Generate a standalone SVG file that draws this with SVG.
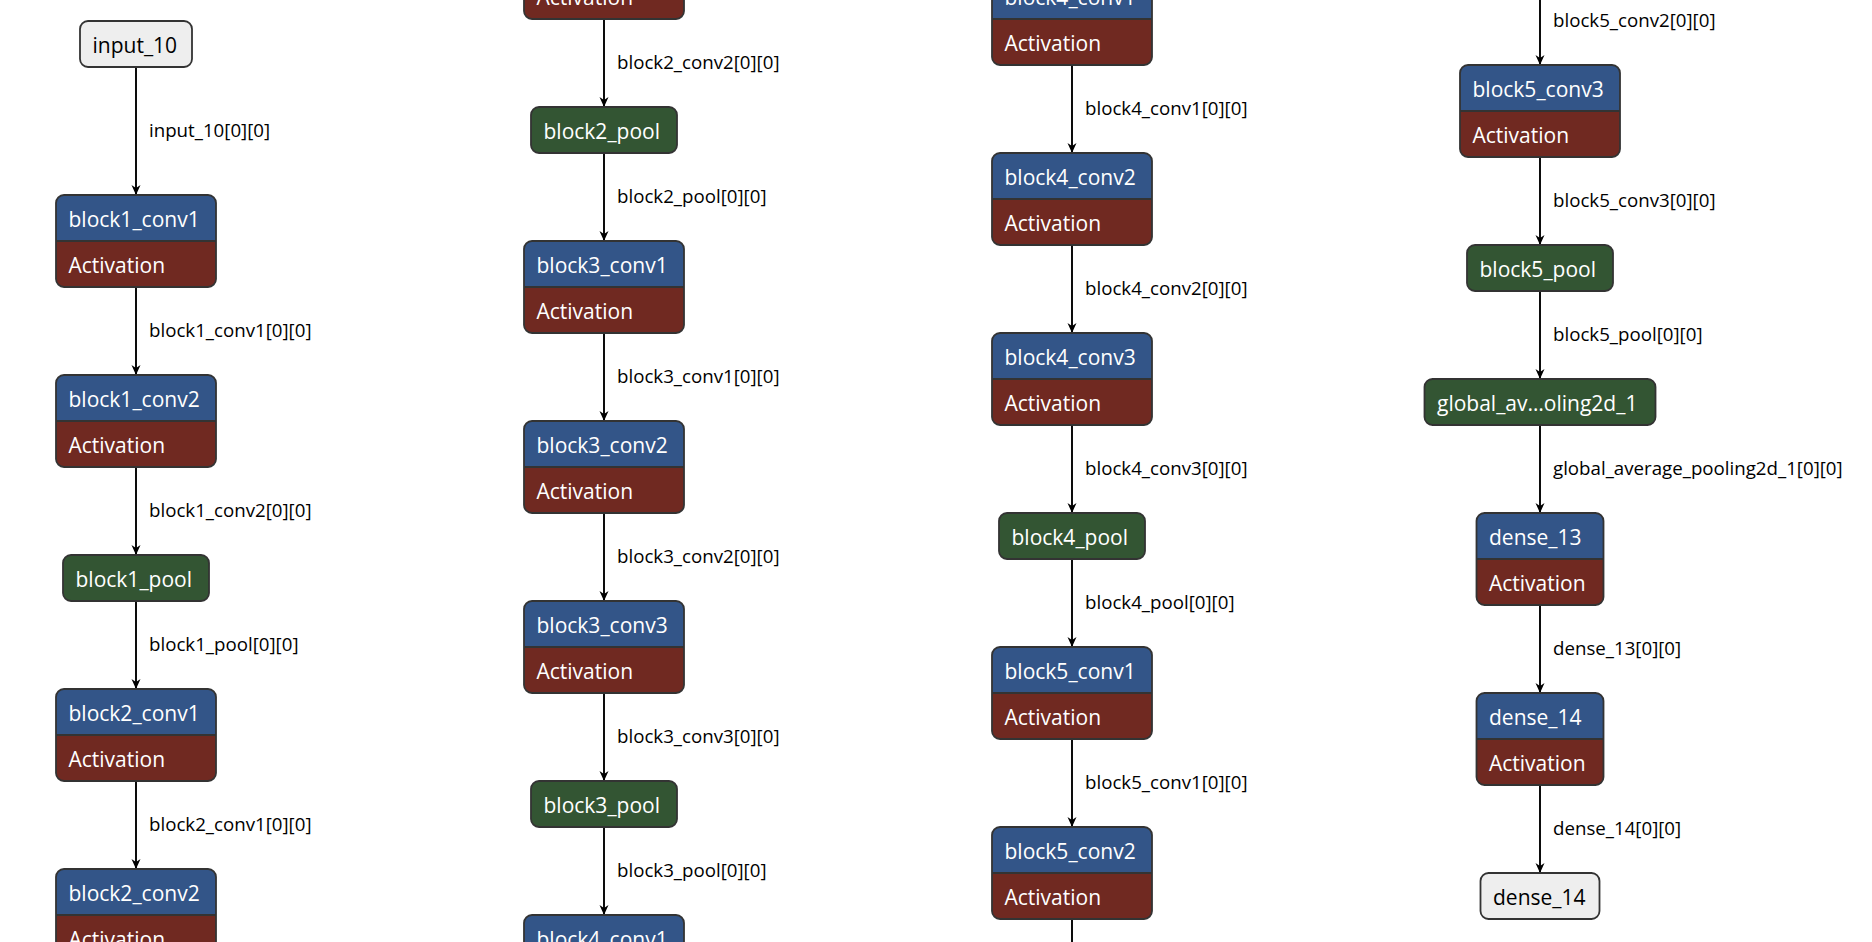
<svg xmlns="http://www.w3.org/2000/svg" width="1872" height="942" viewBox="0 0 1872 942">
<style>
.edge{stroke:#000;stroke-width:1.9;fill:none}
.lbl{font-family:"Open Sans","Noto Sans",sans-serif;font-size:18.7px;fill:#000}
.nt{font-family:"Open Sans","Noto Sans",sans-serif;font-size:21px;fill:#fff}
.nt.dark{fill:#000}
.blue{fill:#335588}
.red{fill:#702921}
.green{fill:#335533;stroke:#333;stroke-width:1.8}
.io{fill:#eeeeee;stroke:#333;stroke-width:1.8}
.outline{fill:none;stroke:#333;stroke-width:1.8}
.div{stroke:#333;stroke-width:1.8}
</style>
<defs>
<marker id="arrow" viewBox="0 0 10 10" refX="10" refY="5" markerWidth="10" markerHeight="10" markerUnits="userSpaceOnUse" orient="auto">
<path d="M0,0.5 L10,5 L0,9.5 L3,5 Z" fill="#000"/>
</marker>
</defs>
<rect width="1872" height="942" fill="#fff"/>

<g id="connectors">
<!-- column 1 -->
<line class="edge" x1="136" y1="67" x2="136" y2="195" marker-end="url(#arrow)"/>
<text class="lbl" x="149" y="137">input_10[0][0]</text>
<line class="edge" x1="136" y1="287" x2="136" y2="375" marker-end="url(#arrow)"/>
<text class="lbl" x="149" y="337">block1_conv1[0][0]</text>
<line class="edge" x1="136" y1="467" x2="136" y2="555" marker-end="url(#arrow)"/>
<text class="lbl" x="149" y="517">block1_conv2[0][0]</text>
<line class="edge" x1="136" y1="601" x2="136" y2="689" marker-end="url(#arrow)"/>
<text class="lbl" x="149" y="651">block1_pool[0][0]</text>
<line class="edge" x1="136" y1="781" x2="136" y2="869" marker-end="url(#arrow)"/>
<text class="lbl" x="149" y="831">block2_conv1[0][0]</text>
<!-- column 2 -->
<line class="edge" x1="604" y1="19" x2="604" y2="107" marker-end="url(#arrow)"/>
<text class="lbl" x="617" y="69">block2_conv2[0][0]</text>
<line class="edge" x1="604" y1="153" x2="604" y2="241" marker-end="url(#arrow)"/>
<text class="lbl" x="617" y="203">block2_pool[0][0]</text>
<line class="edge" x1="604" y1="333" x2="604" y2="421" marker-end="url(#arrow)"/>
<text class="lbl" x="617" y="383">block3_conv1[0][0]</text>
<line class="edge" x1="604" y1="513" x2="604" y2="601" marker-end="url(#arrow)"/>
<text class="lbl" x="617" y="563">block3_conv2[0][0]</text>
<line class="edge" x1="604" y1="693" x2="604" y2="781" marker-end="url(#arrow)"/>
<text class="lbl" x="617" y="743">block3_conv3[0][0]</text>
<line class="edge" x1="604" y1="827" x2="604" y2="915" marker-end="url(#arrow)"/>
<text class="lbl" x="617" y="877">block3_pool[0][0]</text>
<!-- column 3 -->
<line class="edge" x1="1072" y1="65" x2="1072" y2="153" marker-end="url(#arrow)"/>
<text class="lbl" x="1085" y="115">block4_conv1[0][0]</text>
<line class="edge" x1="1072" y1="245" x2="1072" y2="333" marker-end="url(#arrow)"/>
<text class="lbl" x="1085" y="295">block4_conv2[0][0]</text>
<line class="edge" x1="1072" y1="425" x2="1072" y2="513" marker-end="url(#arrow)"/>
<text class="lbl" x="1085" y="475">block4_conv3[0][0]</text>
<line class="edge" x1="1072" y1="559" x2="1072" y2="647" marker-end="url(#arrow)"/>
<text class="lbl" x="1085" y="609">block4_pool[0][0]</text>
<line class="edge" x1="1072" y1="739" x2="1072" y2="827" marker-end="url(#arrow)"/>
<text class="lbl" x="1085" y="789">block5_conv1[0][0]</text>
<line class="edge" x1="1072" y1="919" x2="1072" y2="942"/>
<!-- column 4 -->
<line class="edge" x1="1540" y1="0" x2="1540" y2="65" marker-end="url(#arrow)"/>
<text class="lbl" x="1553" y="27">block5_conv2[0][0]</text>
<line class="edge" x1="1540" y1="157" x2="1540" y2="245" marker-end="url(#arrow)"/>
<text class="lbl" x="1553" y="207">block5_conv3[0][0]</text>
<line class="edge" x1="1540" y1="291" x2="1540" y2="379" marker-end="url(#arrow)"/>
<text class="lbl" x="1553" y="341">block5_pool[0][0]</text>
<line class="edge" x1="1540" y1="425" x2="1540" y2="513" marker-end="url(#arrow)"/>
<text class="lbl" x="1553" y="475">global_average_pooling2d_1[0][0]</text>
<line class="edge" x1="1540" y1="605" x2="1540" y2="693" marker-end="url(#arrow)"/>
<text class="lbl" x="1553" y="655">dense_13[0][0]</text>
<line class="edge" x1="1540" y1="785" x2="1540" y2="873" marker-end="url(#arrow)"/>
<text class="lbl" x="1553" y="835">dense_14[0][0]</text>
</g>

<!-- column 1 nodes -->
<g id="input_10">
<rect class="io" x="80" y="21" width="112" height="46" rx="8"/>
<text class="nt dark" x="92.5" y="53">input_10</text>
</g>
<g id="block1_conv1">
<path class="blue" d="M56,241 V203 A8,8 0 0 1 64,195 H208 A8,8 0 0 1 216,203 V241 Z"/>
<path class="red" d="M56,241 H216 V279 A8,8 0 0 1 208,287 H64 A8,8 0 0 1 56,279 Z"/>
<line class="div" x1="56" y1="241" x2="216" y2="241"/>
<rect class="outline" x="56" y="195" width="160" height="92" rx="8"/>
<text class="nt" x="68.5" y="227">block1_conv1</text>
<text class="nt" x="68.5" y="273">Activation</text>
</g>
<g id="block1_conv2">
<path class="blue" d="M56,421 V383 A8,8 0 0 1 64,375 H208 A8,8 0 0 1 216,383 V421 Z"/>
<path class="red" d="M56,421 H216 V459 A8,8 0 0 1 208,467 H64 A8,8 0 0 1 56,459 Z"/>
<line class="div" x1="56" y1="421" x2="216" y2="421"/>
<rect class="outline" x="56" y="375" width="160" height="92" rx="8"/>
<text class="nt" x="68.5" y="407">block1_conv2</text>
<text class="nt" x="68.5" y="453">Activation</text>
</g>
<g id="block1_pool">
<rect class="green" x="63" y="555" width="146" height="46" rx="8"/>
<text class="nt" x="75.5" y="587">block1_pool</text>
</g>
<g id="block2_conv1">
<path class="blue" d="M56,735 V697 A8,8 0 0 1 64,689 H208 A8,8 0 0 1 216,697 V735 Z"/>
<path class="red" d="M56,735 H216 V773 A8,8 0 0 1 208,781 H64 A8,8 0 0 1 56,773 Z"/>
<line class="div" x1="56" y1="735" x2="216" y2="735"/>
<rect class="outline" x="56" y="689" width="160" height="92" rx="8"/>
<text class="nt" x="68.5" y="721">block2_conv1</text>
<text class="nt" x="68.5" y="767">Activation</text>
</g>
<g id="block2_conv2_part1">
<path class="blue" d="M56,915 V877 A8,8 0 0 1 64,869 H208 A8,8 0 0 1 216,877 V915 Z"/>
<path class="red" d="M56,915 H216 V953 A8,8 0 0 1 208,961 H64 A8,8 0 0 1 56,953 Z"/>
<line class="div" x1="56" y1="915" x2="216" y2="915"/>
<rect class="outline" x="56" y="869" width="160" height="92" rx="8"/>
<text class="nt" x="68.5" y="901">block2_conv2</text>
<text class="nt" x="68.5" y="947">Activation</text>
</g>

<!-- column 2 nodes -->
<g id="block2_conv2_part2">
<path class="blue" d="M524,-27 V-65 A8,8 0 0 1 532,-73 H676 A8,8 0 0 1 684,-65 V-27 Z"/>
<path class="red" d="M524,-27 H684 V11 A8,8 0 0 1 676,19 H532 A8,8 0 0 1 524,11 Z"/>
<rect class="outline" x="524" y="-73" width="160" height="92" rx="8"/>
<text class="nt" x="536.5" y="5">Activation</text>
</g>
<g id="block2_pool">
<rect class="green" x="531" y="107" width="146" height="46" rx="8"/>
<text class="nt" x="543.5" y="139">block2_pool</text>
</g>
<g id="block3_conv1">
<path class="blue" d="M524,287 V249 A8,8 0 0 1 532,241 H676 A8,8 0 0 1 684,249 V287 Z"/>
<path class="red" d="M524,287 H684 V325 A8,8 0 0 1 676,333 H532 A8,8 0 0 1 524,325 Z"/>
<line class="div" x1="524" y1="287" x2="684" y2="287"/>
<rect class="outline" x="524" y="241" width="160" height="92" rx="8"/>
<text class="nt" x="536.5" y="273">block3_conv1</text>
<text class="nt" x="536.5" y="319">Activation</text>
</g>
<g id="block3_conv2">
<path class="blue" d="M524,467 V429 A8,8 0 0 1 532,421 H676 A8,8 0 0 1 684,429 V467 Z"/>
<path class="red" d="M524,467 H684 V505 A8,8 0 0 1 676,513 H532 A8,8 0 0 1 524,505 Z"/>
<line class="div" x1="524" y1="467" x2="684" y2="467"/>
<rect class="outline" x="524" y="421" width="160" height="92" rx="8"/>
<text class="nt" x="536.5" y="453">block3_conv2</text>
<text class="nt" x="536.5" y="499">Activation</text>
</g>
<g id="block3_conv3">
<path class="blue" d="M524,647 V609 A8,8 0 0 1 532,601 H676 A8,8 0 0 1 684,609 V647 Z"/>
<path class="red" d="M524,647 H684 V685 A8,8 0 0 1 676,693 H532 A8,8 0 0 1 524,685 Z"/>
<line class="div" x1="524" y1="647" x2="684" y2="647"/>
<rect class="outline" x="524" y="601" width="160" height="92" rx="8"/>
<text class="nt" x="536.5" y="633">block3_conv3</text>
<text class="nt" x="536.5" y="679">Activation</text>
</g>
<g id="block3_pool">
<rect class="green" x="531" y="781" width="146" height="46" rx="8"/>
<text class="nt" x="543.5" y="813">block3_pool</text>
</g>
<g id="block4_conv1_part1">
<path class="blue" d="M524,961 V923 A8,8 0 0 1 532,915 H676 A8,8 0 0 1 684,923 V961 Z"/>
<rect class="outline" x="524" y="915" width="160" height="92" rx="8"/>
<text class="nt" x="536.5" y="947">block4_conv1</text>
</g>

<!-- column 3 nodes -->
<g id="block4_conv1_part2">
<path class="blue" d="M992,19 V-19 A8,8 0 0 1 1000,-27 H1144 A8,8 0 0 1 1152,-19 V19 Z"/>
<path class="red" d="M992,19 H1152 V57 A8,8 0 0 1 1144,65 H1000 A8,8 0 0 1 992,57 Z"/>
<line class="div" x1="992" y1="19" x2="1152" y2="19"/>
<rect class="outline" x="992" y="-27" width="160" height="92" rx="8"/>
<text class="nt" x="1004.5" y="5">block4_conv1</text>
<text class="nt" x="1004.5" y="51">Activation</text>
</g>
<g id="block4_conv2">
<path class="blue" d="M992,199 V161 A8,8 0 0 1 1000,153 H1144 A8,8 0 0 1 1152,161 V199 Z"/>
<path class="red" d="M992,199 H1152 V237 A8,8 0 0 1 1144,245 H1000 A8,8 0 0 1 992,237 Z"/>
<line class="div" x1="992" y1="199" x2="1152" y2="199"/>
<rect class="outline" x="992" y="153" width="160" height="92" rx="8"/>
<text class="nt" x="1004.5" y="185">block4_conv2</text>
<text class="nt" x="1004.5" y="231">Activation</text>
</g>
<g id="block4_conv3">
<path class="blue" d="M992,379 V341 A8,8 0 0 1 1000,333 H1144 A8,8 0 0 1 1152,341 V379 Z"/>
<path class="red" d="M992,379 H1152 V417 A8,8 0 0 1 1144,425 H1000 A8,8 0 0 1 992,417 Z"/>
<line class="div" x1="992" y1="379" x2="1152" y2="379"/>
<rect class="outline" x="992" y="333" width="160" height="92" rx="8"/>
<text class="nt" x="1004.5" y="365">block4_conv3</text>
<text class="nt" x="1004.5" y="411">Activation</text>
</g>
<g id="block4_pool">
<rect class="green" x="999" y="513" width="146" height="46" rx="8"/>
<text class="nt" x="1011.5" y="545">block4_pool</text>
</g>
<g id="block5_conv1">
<path class="blue" d="M992,693 V655 A8,8 0 0 1 1000,647 H1144 A8,8 0 0 1 1152,655 V693 Z"/>
<path class="red" d="M992,693 H1152 V731 A8,8 0 0 1 1144,739 H1000 A8,8 0 0 1 992,731 Z"/>
<line class="div" x1="992" y1="693" x2="1152" y2="693"/>
<rect class="outline" x="992" y="647" width="160" height="92" rx="8"/>
<text class="nt" x="1004.5" y="679">block5_conv1</text>
<text class="nt" x="1004.5" y="725">Activation</text>
</g>
<g id="block5_conv2">
<path class="blue" d="M992,873 V835 A8,8 0 0 1 1000,827 H1144 A8,8 0 0 1 1152,835 V873 Z"/>
<path class="red" d="M992,873 H1152 V911 A8,8 0 0 1 1144,919 H1000 A8,8 0 0 1 992,911 Z"/>
<line class="div" x1="992" y1="873" x2="1152" y2="873"/>
<rect class="outline" x="992" y="827" width="160" height="92" rx="8"/>
<text class="nt" x="1004.5" y="859">block5_conv2</text>
<text class="nt" x="1004.5" y="905">Activation</text>
</g>

<!-- column 4 nodes -->
<g id="block5_conv3">
<path class="blue" d="M1460,111 V73 A8,8 0 0 1 1468,65 H1612 A8,8 0 0 1 1620,73 V111 Z"/>
<path class="red" d="M1460,111 H1620 V149 A8,8 0 0 1 1612,157 H1468 A8,8 0 0 1 1460,149 Z"/>
<line class="div" x1="1460" y1="111" x2="1620" y2="111"/>
<rect class="outline" x="1460" y="65" width="160" height="92" rx="8"/>
<text class="nt" x="1472.5" y="97">block5_conv3</text>
<text class="nt" x="1472.5" y="143">Activation</text>
</g>
<g id="block5_pool">
<rect class="green" x="1467" y="245" width="146" height="46" rx="8"/>
<text class="nt" x="1479.5" y="277">block5_pool</text>
</g>
<g id="global_average_pooling2d_1">
<rect class="green" x="1424.5" y="379" width="231" height="46" rx="8"/>
<text class="nt" x="1437" y="411">global_av…oling2d_1</text>
</g>
<g id="dense_13">
<path class="blue" d="M1476.5,559 V521 A8,8 0 0 1 1484.5,513 H1595.5 A8,8 0 0 1 1603.5,521 V559 Z"/>
<path class="red" d="M1476.5,559 H1603.5 V597 A8,8 0 0 1 1595.5,605 H1484.5 A8,8 0 0 1 1476.5,597 Z"/>
<line class="div" x1="1476.5" y1="559" x2="1603.5" y2="559"/>
<rect class="outline" x="1476.5" y="513" width="127" height="92" rx="8"/>
<text class="nt" x="1489" y="545">dense_13</text>
<text class="nt" x="1489" y="591">Activation</text>
</g>
<g id="dense_14">
<path class="blue" d="M1476.5,739 V701 A8,8 0 0 1 1484.5,693 H1595.5 A8,8 0 0 1 1603.5,701 V739 Z"/>
<path class="red" d="M1476.5,739 H1603.5 V777 A8,8 0 0 1 1595.5,785 H1484.5 A8,8 0 0 1 1476.5,777 Z"/>
<line class="div" x1="1476.5" y1="739" x2="1603.5" y2="739"/>
<rect class="outline" x="1476.5" y="693" width="127" height="92" rx="8"/>
<text class="nt" x="1489" y="725">dense_14</text>
<text class="nt" x="1489" y="771">Activation</text>
</g>
<g id="dense_14_output">
<rect class="io" x="1480.5" y="873" width="119" height="46" rx="8"/>
<text class="nt dark" x="1493" y="905">dense_14</text>
</g>
</svg>
